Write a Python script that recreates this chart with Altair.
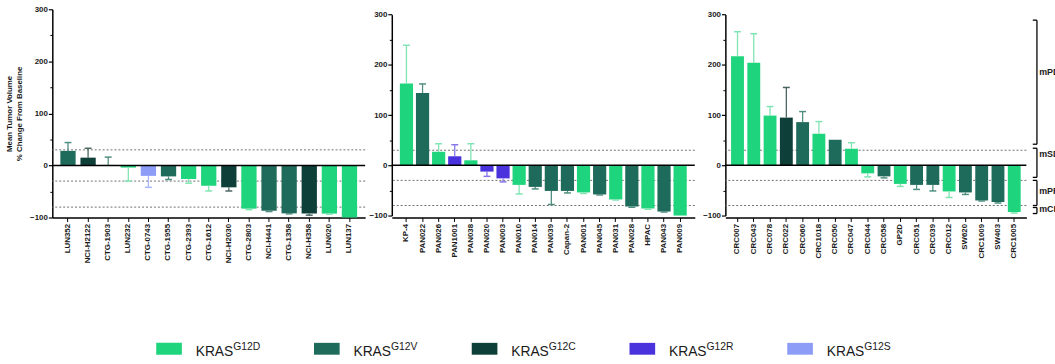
import altair as alt
import pandas as pd

FONT = "Liberation Sans"

# KRAS mutation classes and their colours
mutations = ["G12D", "G12V", "G12C", "G12R", "G12S"]
bar_colors = ["#1ed47c", "#1f6b5b", "#0f3f39", "#4a33dc", "#8d9df7"]
err_colors = ["#80e4b2", "#4f8e80", "#4a6561", "#8576ea", "#a9b6f9"]

# Lung models
lung_models = ["LUN352", "NCI-H2122", "CTG-1903", "LUN232", "CTG-0743", "CTG-1955",
               "CTG-2393", "CTG-1612", "NCI-H2030", "CTG-2803", "NCI-H441", "CTG-1358",
               "NCI-H358", "LUN020", "LUN137"]
lung_change = [28, 15, 1, -4, -20, -21, -26, -39, -42, -83, -87, -92, -92.5, -92.5, -100]
lung_sem = [16, 18, 15, 26, 22, 6, 8, 10, 7, 2, 1.5, 1, 3, 1, 0]
lung_mut = ["G12V", "G12C", "G12V", "G12D", "G12S", "G12V", "G12D", "G12D", "G12C",
            "G12D", "G12V", "G12V", "G12C", "G12D", "G12D"]

# Pancreatic models
pan_models = ["KP-4", "PAN022", "PAN026", "PAN1001", "PAN038", "PAN020", "PAN003",
              "PAN010", "PAN014", "PAN039", "Capan-2", "PAN001", "PAN045", "PAN031",
              "PAN028", "HPAC", "PAN043", "PAN009"]
pan_change = [163, 144, 27, 18, 10, -12.5, -26, -39, -43, -51, -51, -54, -58, -68,
              -82, -86, -92, -100]
pan_sem = [76, 18, 16, 23, 33, 9.5, 7, 18, 4, 27, 4, 2, 1, 1, 1.5, 1.5, 1, 0]
pan_mut = ["G12D", "G12V", "G12D", "G12R", "G12D", "G12R", "G12R", "G12D", "G12V",
           "G12V", "G12V", "G12D", "G12V", "G12D", "G12V", "G12D", "G12V", "G12D"]

# Colorectal models
crc_models = ["CRC007", "CRC043", "CRC078", "CRC022", "CRC060", "CRC1018", "CRC050",
              "CRC047", "CRC044", "CRC058", "GP2D", "CRC051", "CRC039", "CRC012",
              "SW620", "CRC1009", "SW403", "CRC1005"]
crc_change = [217, 204, 99, 95, 86, 63, 51, 33, -16, -22, -37, -39, -39, -52, -54,
              -70, -73, -93]
crc_sem = [49, 58, 18, 60, 21, 24, 0, 12, 7, 3, 5, 9, 12, 12, 4, 1, 2, 2]
crc_mut = ["G12D", "G12D", "G12D", "G12C", "G12V", "G12D", "G12V", "G12D", "G12D",
           "G12V", "G12D", "G12V", "G12V", "G12D", "G12V", "G12V", "G12V", "G12D"]

# Response thresholds and y ticks
thresholds = [30, -30, -80]
major_ticks = [-100, 0, 100, 200, 300]
minor_ticks = [-50, 50, 150, 250]

# mRECIST brackets on the right
bracket_labels = ["mPD", "mSD", "mPR", "mCR"]
bracket_top = [289, 34, -30, -84]
bracket_bottom = [42, -24, -80, -96]
bracket_label_at = [185, 22, -52, -88]

fill_scale = alt.Scale(domain=mutations, range=bar_colors)
err_scale = alt.Scale(domain=mutations, range=err_colors)


def y_scale(y_range=None):
    if y_range is None:
        return alt.Scale(domain=[-100, 300], nice=False, zero=False)
    return alt.Scale(domain=[-100, 300], nice=False, zero=False, range=y_range)


def panel(models, change, sem, mut, width, height, pad_inner, pad_outer,
          y_range=None, y_title=None):
    df = pd.DataFrame({"model": models, "change": change, "sem": sem, "mutation": mut})
    df["err_end"] = [c + s if c >= 0 else c - s for c, s in zip(change, sem)]
    err_df = df[df["sem"] > 0]
    ys = y_scale(y_range)

    x = alt.X("model:N", sort=models,
              scale=alt.Scale(paddingInner=pad_inner, paddingOuter=pad_outer),
              axis=alt.Axis(title=None, labelAngle=270, labelFont=FONT,
                            labelFontWeight="bold", labelFontSize=8, labelColor="#1a1a1a",
                            labelPadding=2, tickSize=4, tickColor="black", tickWidth=1,
                            domainColor="black", domainWidth=1.5))

    axis_kw = dict(values=major_ticks, grid=False, orient="left", labelFont=FONT,
                   labelFontWeight="bold", labelFontSize=8, labelColor="#1a1a1a",
                   labelPadding=1, tickSize=4, tickColor="black", tickWidth=1.2,
                   domainColor="black", domainWidth=1.5)
    if y_title is not None:
        main_axis = alt.Axis(title=y_title, titleFont=FONT, titleFontWeight="bold",
                             titleFontSize=8, titleColor="#1a1a1a", titlePadding=6,
                             titleLineHeight=10, **axis_kw)
    else:
        main_axis = alt.Axis(title=None, **axis_kw)
    minor_axis = alt.Axis(values=minor_ticks, labels=False, domain=False, grid=False,
                          tickSize=2.5, tickColor="black", tickWidth=1, orient="left",
                          title=None)

    dotted = alt.Chart(pd.DataFrame({"level": thresholds})).mark_rule(
        strokeDash=[2, 2], color="#6f6f6f", strokeWidth=1
    ).encode(y=alt.Y("level:Q", scale=ys, axis=minor_axis))

    bars = alt.Chart(df).mark_bar().encode(
        x=x,
        y=alt.Y("change:Q", scale=ys, axis=main_axis),
        fill=alt.Fill("mutation:N", scale=fill_scale, legend=None),
    )

    err = alt.Chart(err_df).mark_rule(strokeWidth=1.3).encode(
        x=x,
        y=alt.Y("change:Q", scale=ys, axis=None),
        y2="err_end:Q",
        stroke=alt.Stroke("mutation:N", scale=err_scale, legend=None),
    )

    caps = alt.Chart(err_df).mark_point(
        shape="M -1 0 L 1 0", filled=False, size=49, strokeWidth=1.5, opacity=1
    ).encode(
        x=x,
        y=alt.Y("err_end:Q", scale=ys, axis=None),
        stroke=alt.Stroke("mutation:N", scale=err_scale, legend=None),
    )

    zero = alt.Chart(pd.DataFrame({"level": [0]})).mark_rule(
        color="black", strokeWidth=1.5
    ).encode(y=alt.Y("level:Q", scale=ys, axis=None))

    return alt.layer(dotted, bars, err, caps, zero).resolve_axis(
        y="independent"
    ).properties(width=width, height=height)


SHORT_RANGE = [209, 5.4]

lung = panel(lung_models, lung_change, lung_sem, lung_mut, 317, 211, 0.24, 0.4,
             y_title=["Mean Tumor Volume", "% Change From Baseline"])
pancreas = panel(pan_models, pan_change, pan_sem, pan_mut, 307, 211, 0.18, 0.5,
                 y_range=SHORT_RANGE)
colorectal = panel(crc_models, crc_change, crc_sem, crc_mut, 305, 211, 0.21, 0.35,
                   y_range=SHORT_RANGE)

# mRECIST bracket annotations
bdf = pd.DataFrame({"label": bracket_labels, "top": bracket_top,
                    "bottom": bracket_bottom, "label_at": bracket_label_at})
bys = y_scale(SHORT_RANGE)
bxs = alt.Scale(domain=[0, 27])
b_vert = alt.Chart(bdf).mark_rule(color="black", strokeWidth=1.3).encode(
    x=alt.XDatum(8.7, scale=bxs, axis=None),
    y=alt.Y("top:Q", scale=bys, axis=None),
    y2="bottom:Q",
)
b_top = alt.Chart(bdf).mark_rule(color="black", strokeWidth=1.3).encode(
    x=alt.XDatum(4.5, scale=bxs, axis=None),
    x2=alt.X2Datum(8.7),
    y=alt.Y("top:Q", scale=bys, axis=None),
)
b_bot = alt.Chart(bdf).mark_rule(color="black", strokeWidth=1.3).encode(
    x=alt.XDatum(4.5, scale=bxs, axis=None),
    x2=alt.X2Datum(8.7),
    y=alt.Y("bottom:Q", scale=bys, axis=None),
)
b_text = alt.Chart(bdf).mark_text(
    align="left", baseline="middle", font=FONT, fontWeight="bold", fontSize=9,
    color="#1a1a1a", clip=True
).encode(
    x=alt.XDatum(11, scale=bxs, axis=None),
    y=alt.Y("label_at:Q", scale=bys, axis=None),
    text="label:N",
)
brackets = alt.layer(b_vert, b_top, b_bot, b_text).properties(width=27, height=211)

# Legend row
ldf = pd.DataFrame({"mutation": mutations, "gene": ["KRAS"] * len(mutations)})
lx = alt.X("mutation:N", sort=mutations, scale=alt.Scale(type="point", padding=0.74),
           axis=None)
swatch = alt.Chart(ldf).mark_tick(
    orient="horizontal", size=26, thickness=12, opacity=1
).encode(x=lx, fill=alt.Fill("mutation:N", scale=fill_scale, legend=None))
gene_text = alt.Chart(ldf).mark_text(
    align="left", baseline="alphabetic", dx=27, dy=7, font=FONT, fontSize=14,
    color="#1a1a1a"
).encode(x=lx, text="gene:N")
sup_text = alt.Chart(ldf).mark_text(
    align="left", baseline="alphabetic", dx=65, dy=1, font=FONT, fontSize=10.5,
    color="#1a1a1a"
).encode(x=lx, text="mutation:N")
legend = alt.layer(swatch, gene_text, sup_text).properties(width=876, height=24)

row = alt.hconcat(
    alt.hconcat(lung, pancreas, spacing=2),
    alt.hconcat(colorectal, brackets, spacing=1),
    spacing=6,
)

chart = alt.vconcat(row, legend, spacing=74).properties(
    padding={"left": 5, "top": 3, "right": 0, "bottom": 0},
    background="white",
).configure_view(strokeWidth=0)

chart.save("out.html", embed_options={"renderer": "svg", "actions": False})
